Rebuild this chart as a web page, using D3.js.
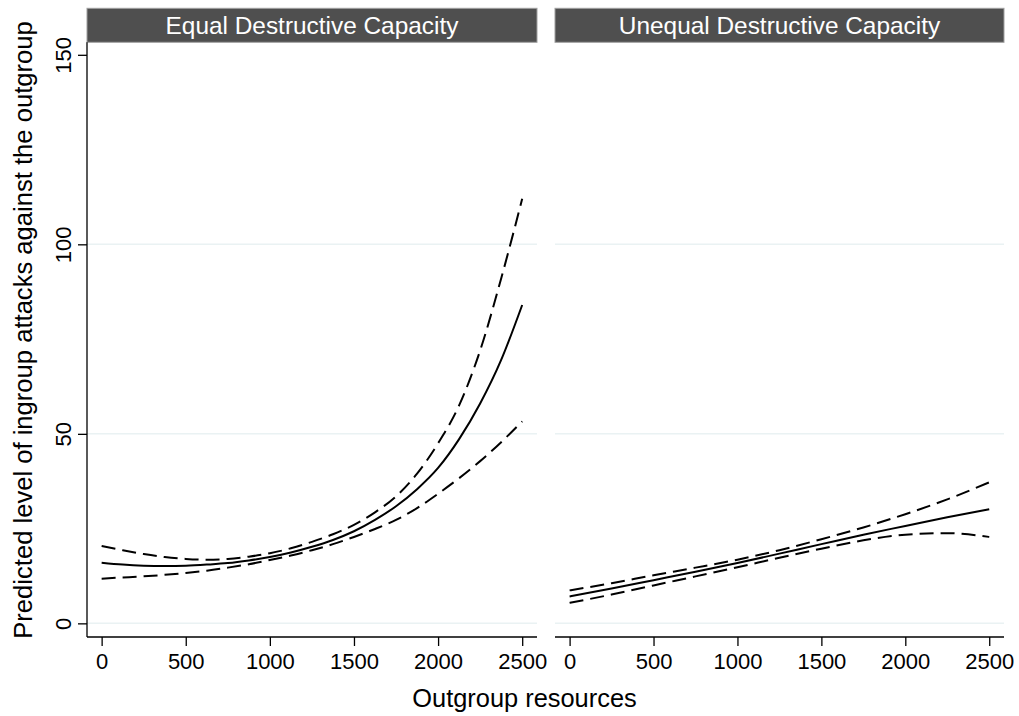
<!DOCTYPE html>
<html>
<head>
<meta charset="utf-8">
<script src="https://cdn.jsdelivr.net/npm/d3@7/dist/d3.min.js"></script>
<style>
  html, body { margin: 0; padding: 0; background: #fff; }
  svg { display: block; }
  text { font-family: "Liberation Sans", Arial, Helvetica, sans-serif; }
</style>
</head>
<body>
<svg id="chart" width="1019" height="716"></svg>
<script>
// ---- Data ----
const panelTitles = ["Equal Destructive Capacity", "Unequal Destructive Capacity"];
const xTicks = [0, 500, 1000, 1500, 2000, 2500];
const yTicks = [0, 50, 100, 150];
const yGrid = [0, 50, 100];

// Equal destructive capacity (left panel)
const xEqual = [0,125,250,375,500,625,750,875,1000,1125,1250,1375,1500,1625,1750,1875,2000,2125,2250,2375,2500];
const fitEqual = [16.0,15.5,15.2,15.1,15.2,15.5,15.9,16.6,17.5,18.7,20.2,22.0,24.3,27.3,30.9,35.4,41.0,48.6,58.0,69.5,84.0];
const upperEqual = [20.4,19.3,18.3,17.5,17.0,16.8,17.0,17.6,18.5,19.8,21.5,23.5,26.0,29.3,33.5,39.5,47.5,57.5,72.0,91.0,112.0];
const lowerEqual = [11.8,12.1,12.4,12.8,13.3,13.9,14.7,15.6,16.7,17.9,19.3,20.9,22.8,24.9,27.3,30.4,34.2,38.3,42.8,47.8,53.3];

// Unequal destructive capacity (right panel)
const xUnequal = [0,250,500,750,1000,1250,1500,1750,2000,2250,2500];
const fitUnequal = [7.1,9.2,11.4,13.6,15.9,18.4,20.9,23.4,25.7,28.0,30.1];
const upperUnequal = [8.7,10.6,12.7,14.7,16.8,19.3,22.2,25.3,28.8,32.7,37.2];
const lowerUnequal = [5.4,7.6,10.0,12.4,14.8,17.3,19.7,21.9,23.4,23.8,22.8];

const xTitle = "Outgroup resources";
const yTitle = "Predicted level of ingroup attacks against the outgroup";

// ---- Layout ----
const svg = d3.select("#chart");
const plotTop = 42.3, plotBottom = 637;
const stripTop = 8.3;
const panels = [
  { x0: 87, x1: 537, title: panelTitles[0], xs: xEqual, fit: fitEqual, up: upperEqual, lo: lowerEqual, yAxis: true },
  { x0: 555, x1: 1004, title: panelTitles[1], xs: xUnequal, fit: fitUnequal, up: upperUnequal, lo: lowerUnequal, yAxis: false }
];

const y = d3.scaleLinear().domain([-3.6, 153.3]).range([plotBottom, plotTop]);

panels.forEach(p => {
  const x = d3.scaleLinear().domain([-87, 2588]).range([p.x0, p.x1]);
  const g = svg.append("g");

  // gridlines
  g.selectAll("line.grid").data(yGrid).enter().append("line")
    .attr("x1", p.x0).attr("x2", p.x1)
    .attr("y1", d => y(d)).attr("y2", d => y(d))
    .attr("stroke", "#eaf2f3").attr("stroke-width", 1.5);

  // strip
  g.append("rect")
    .attr("x", p.x0).attr("y", stripTop)
    .attr("width", p.x1 - p.x0).attr("height", plotTop - stripTop)
    .attr("fill", "#4f4f4f").attr("stroke", "#a0a0a0").attr("stroke-width", 1);
  g.append("text")
    .attr("x", (p.x0 + p.x1) / 2).attr("y", 33.6)
    .attr("text-anchor", "middle")
    .attr("fill", "#ffffff")
    .attr("font-size", "24.4px")
    .text(p.title);

  // x axis
  const xAxis = d3.axisBottom(x).tickValues(xTicks).tickSize(9).tickFormat(d3.format("d"));
  const ga = g.append("g").attr("transform", `translate(0,${plotBottom})`).call(xAxis);
  ga.select(".domain").remove();
  ga.append("line").attr("x1", p.x0).attr("x2", p.x1).attr("y1", 0).attr("y2", 0)
    .attr("stroke", "#000").attr("stroke-width", 1.3);
  ga.selectAll(".tick line").attr("stroke", "#000").attr("stroke-width", 1.3);
  ga.selectAll(".tick text")
    .attr("y", 32.3).attr("dy", null)
    .attr("fill", "#000").attr("font-size", "22px")
    .attr("font-family", "Liberation Sans, Arial, sans-serif");

  // y axis (left panel only)
  if (p.yAxis) {
    const yAxis = d3.axisLeft(y).tickValues(yTicks).tickSize(9).tickFormat(d3.format("d"));
    const gy = g.append("g").attr("transform", `translate(${p.x0},0)`).call(yAxis);
    gy.select(".domain").remove();
    gy.append("line").attr("x1", 0).attr("x2", 0).attr("y1", plotTop).attr("y2", plotBottom)
      .attr("stroke", "#000").attr("stroke-width", 1.3);
    gy.selectAll(".tick line").attr("stroke", "#000").attr("stroke-width", 1.3);
    gy.selectAll(".tick text").remove();
    gy.selectAll(".tick").append("text")
      .attr("transform", "translate(-16,0) rotate(-90)")
      .attr("text-anchor", "middle")
      .attr("fill", "#000")
      .attr("font-size", "22px")
      .attr("font-family", "Liberation Sans, Arial, sans-serif")
      .text(d => d3.format("d")(d));
  }

  // curves
  const line = d3.line().x(d => x(d[0])).y(d => y(d[1])).curve(d3.curveMonotoneX);
  const series = [
    { vals: p.up, dash: "14 7" },
    { vals: p.lo, dash: "14 7" },
    { vals: p.fit, dash: null }
  ];
  series.forEach(s => {
    g.append("path")
      .datum(p.xs.map((xv, i) => [xv, s.vals[i]]))
      .attr("d", line)
      .attr("fill", "none")
      .attr("stroke", "#000")
      .attr("stroke-width", 2)
      .attr("stroke-dasharray", s.dash);
  });
});

// axis titles
svg.append("text")
  .attr("x", 524.5).attr("y", 707)
  .attr("text-anchor", "middle")
  .attr("font-size", "25.4px")
  .attr("fill", "#000")
  .text(xTitle);

svg.append("text")
  .attr("transform", "translate(31.5,330) rotate(-90)")
  .attr("text-anchor", "middle")
  .attr("font-size", "25.6px")
  .attr("fill", "#000")
  .text(yTitle);
</script>
</body>
</html>
